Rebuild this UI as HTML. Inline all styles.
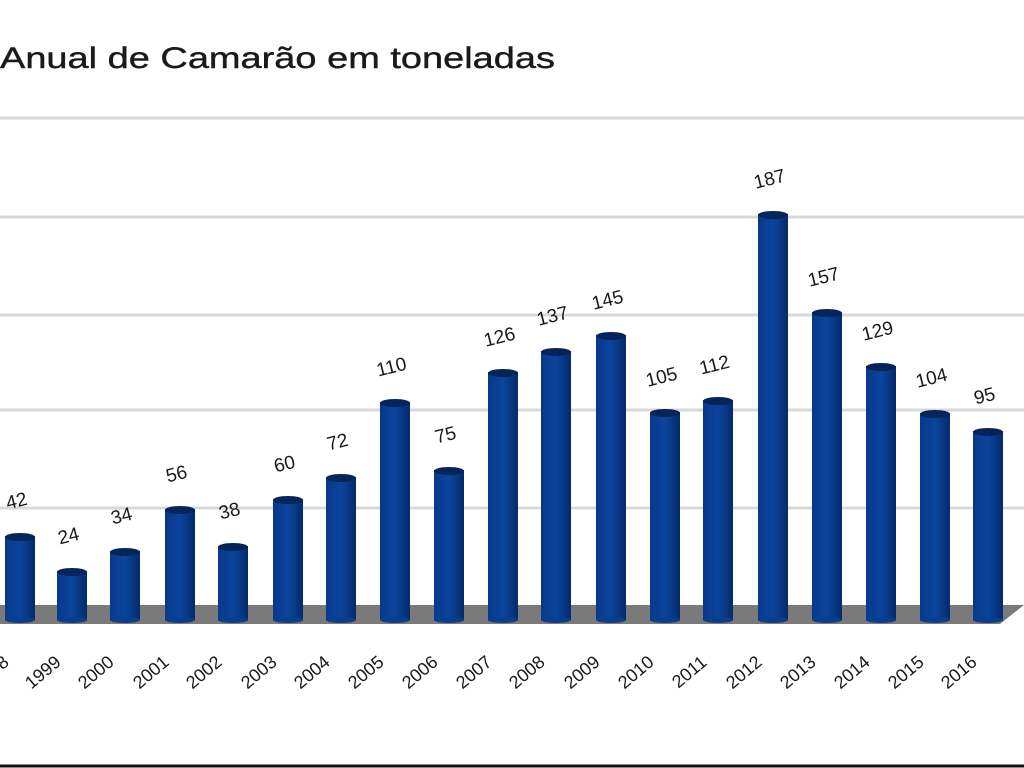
<!DOCTYPE html>
<html><head><meta charset="utf-8"><style>
html,body{margin:0;padding:0;background:#fff;width:1024px;height:768px;overflow:hidden}
svg{display:block}
text{font-family:"Liberation Sans",sans-serif;fill:#1a1a1a}
</style></head><body>
<svg width="1024" height="768" viewBox="0 0 1024 768" xmlns="http://www.w3.org/2000/svg">
<defs>
<linearGradient id="bg" x1="0" x2="1" y1="0" y2="0">
<stop offset="0" stop-color="#08388a"/><stop offset="0.5" stop-color="#0b459c"/><stop offset="1" stop-color="#052a6a"/>
</linearGradient>
</defs>
<text x="0" y="68" font-size="30" stroke="#1a1a1a" stroke-width="0.4" textLength="555" lengthAdjust="spacingAndGlyphs">Anual de Camarão em toneladas</text>
<g stroke="#d8d8d8" stroke-width="3">
<line x1="0" y1="118" x2="1024" y2="118"/>
<line x1="0" y1="217" x2="1024" y2="217"/>
<line x1="0" y1="315" x2="1024" y2="315"/>
<line x1="0" y1="410" x2="1024" y2="410"/>
<line x1="0" y1="508" x2="1024" y2="508"/>
</g>
<polygon points="0,605 1024,605 1000,624 0,624" fill="#7a7a7a"/>
<g id="bars"></g>
<line x1="0" y1="766" x2="1024" y2="766" stroke="#111" stroke-width="3"/>
</svg>
<script>
var d=[[20,533,"42","1998"],[72,568,"24","1999"],[125,548,"34","2000"],[180,506,"56","2001"],[233,543,"38","2002"],[288,496,"60","2003"],[341,474,"72","2004"],[395,399,"110","2005"],[449,467,"75","2006"],[503,369,"126","2007"],[556,348,"137","2008"],[611,332,"145","2009"],[665,409,"105","2010"],[718,397,"112","2011"],[773,211,"187","2012"],[827,309,"157","2013"],[881,363,"129","2014"],[935,410,"104","2015"],[988,428,"95","2016"]];
var g=document.getElementById('bars'),s='';
d.forEach(function(b){var x=b[0]-15,t=b[1];
s+='<rect x="'+x+'" y="'+(t+3)+'" width="30" height="'+(620-t-3)+'" fill="url(#bg)"/>';
s+='<ellipse cx="'+b[0]+'" cy="'+(t+4)+'" rx="15" ry="4" fill="#04245a"/>';
s+='<ellipse cx="'+b[0]+'" cy="620" rx="15" ry="3" fill="#0b3f8a"/>';
s+='<text x="'+(b[0]-2)+'" y="'+(t-26)+'" font-size="19" text-anchor="middle" transform="rotate(-14 '+(b[0]-2)+' '+(t-26)+')">'+b[2]+'</text>';
s+='<text x="'+(b[0]-10)+'" y="'+664+'" font-size="18" fill="#222" text-anchor="end" transform="rotate(-40 '+(b[0]-10)+' 664)">'+b[3]+'</text>';
});
g.innerHTML=s;
</script>
</body></html>
